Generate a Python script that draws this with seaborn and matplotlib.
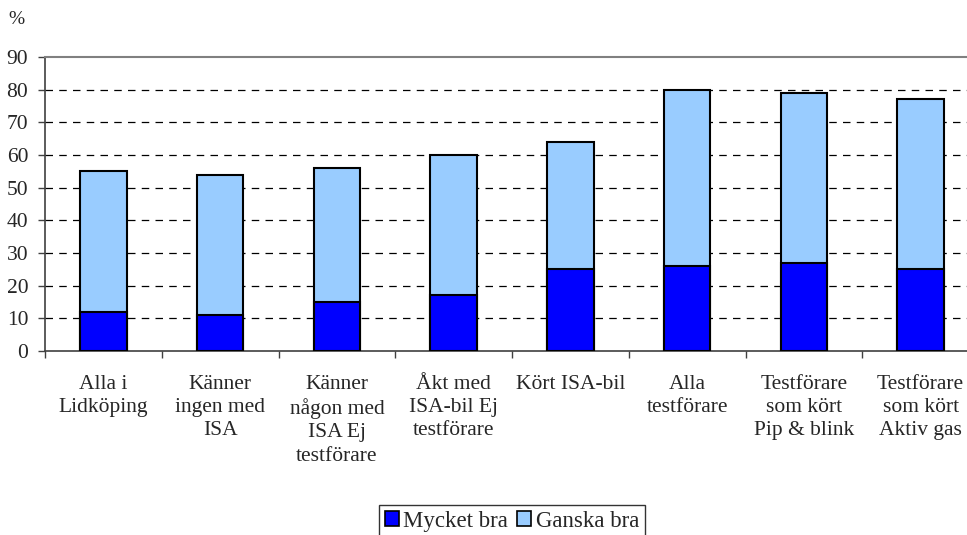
import matplotlib
matplotlib.use("Agg")
import matplotlib.pyplot as plt
import seaborn as sns
import pandas as pd
from matplotlib.patches import Patch

categories = [
    "Alla i\nLidköping",
    "Känner\ningen med\nISA",
    "Känner\nnågon med\nISA Ej\ntestförare",
    "Åkt med\nISA-bil Ej\ntestförare",
    "Kört ISA-bil",
    "Alla\ntestförare",
    "Testförare\nsom kört\nPip & blink",
    "Testförare\nsom kört\nAktiv gas",
]
mycket_bra = [12, 11, 15, 17, 25, 26, 27, 25]
ganska_bra = [43, 43, 41, 43, 39, 54, 52, 52]
y_ticks = list(range(0, 100, 10))

sns.set_style("white")
plt.rcParams["font.family"] = ["Liberation Serif", "DejaVu Serif"]

df = pd.DataFrame({
    "kategori": categories,
    "Mycket bra": mycket_bra,
    "Ganska bra": ganska_bra,
})
df["total"] = df["Mycket bra"] + df["Ganska bra"]

dark = "#0000FF"
light = "#99CCFF"
fs = 15.5

fig = plt.figure(figsize=(9.67, 5.35), dpi=100)
ax = fig.add_axes([45 / 967, 184 / 535, 934 / 967, 294 / 535])

sns.barplot(data=df, x="kategori", y="total", color=light, width=0.40,
            edgecolor="black", linewidth=1.5, saturation=1, ax=ax, zorder=3)
sns.barplot(data=df, x="kategori", y="Mycket bra", color=dark, width=0.40,
            edgecolor="black", linewidth=1.5, saturation=1, ax=ax, zorder=4)

ax.set_xlim(-0.5, len(categories) - 0.5)
ax.set_ylim(0, 90)
ax.set_yticks(y_ticks)
ax.set_yticklabels([str(t) for t in y_ticks], fontsize=fs)
ax.set_xlabel("")
ax.set_ylabel("")

# dashed gridlines
for t in y_ticks[1:-1]:
    ax.axhline(t, color="black", linestyle=(0, (6, 5)), linewidth=0.9, zorder=1)

ax.spines["right"].set_visible(False)
ax.spines["top"].set_color("#808080")
ax.spines["top"].set_linewidth(1.5)
ax.spines["left"].set_color("#404040")
ax.spines["bottom"].set_color("#404040")
ax.spines["left"].set_linewidth(1.2)
ax.spines["bottom"].set_linewidth(1.2)

ax.tick_params(axis="y", left=True, length=5, width=1, color="#404040", pad=7)
ax.tick_params(axis="x", which="major", bottom=False, length=0, pad=17)
ax.set_xticks([i - 0.5 for i in range(len(categories) + 1)], minor=True)
ax.tick_params(axis="x", which="minor", bottom=True, length=5, width=1, color="#404040")
ax.set_xticklabels(categories, fontsize=fs, linespacing=1.3, va="top")

fig.text(8 / 967, 1 - 20 / 535, "%", fontsize=fs - 1.5, va="center", ha="left")

handles = [Patch(facecolor=dark, edgecolor="black", linewidth=1.2, label="Mycket bra"),
           Patch(facecolor=light, edgecolor="black", linewidth=1.2, label="Ganska bra")]
leg = fig.legend(handles=handles, loc="upper center", bbox_to_anchor=(512 / 967, 1 - 505 / 535),
                 ncol=2, fontsize=16.5, frameon=True, fancybox=False, edgecolor="black",
                 handlelength=0.6, handleheight=0.6, handletextpad=0.2, columnspacing=0.4,
                 borderpad=0.25, borderaxespad=0)
leg.get_frame().set_linewidth(1.0)

fig.savefig("out.png", dpi=100)
